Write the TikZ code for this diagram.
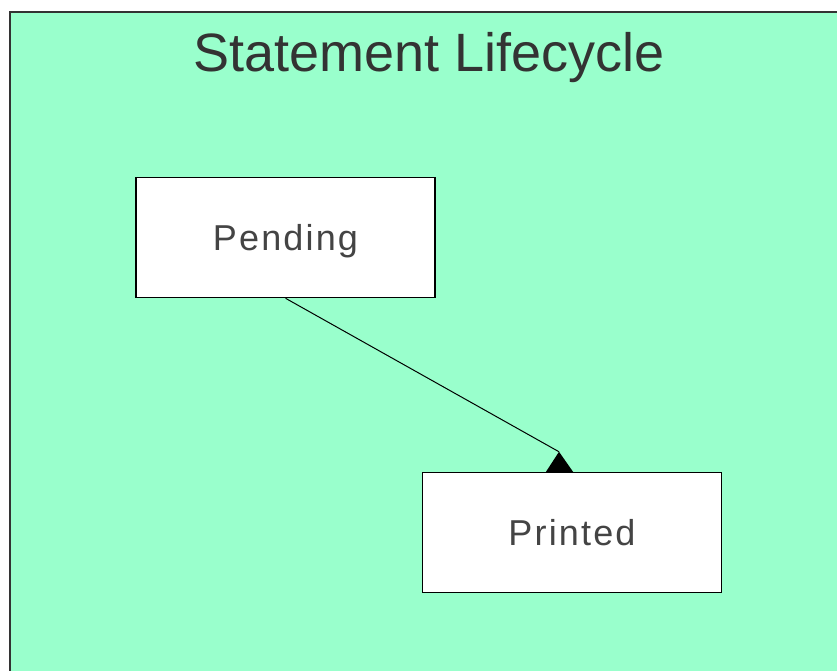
\documentclass[tikz,border=0pt]{standalone}
\usepackage{fontspec}
\setmainfont{Liberation Sans}
\definecolor{lcgreen}{RGB}{153,255,204}
\definecolor{lcframe}{RGB}{51,51,51}
\definecolor{lctext}{RGB}{68,68,68}

\begin{document}
\begin{tikzpicture}[x=1pt,y=1pt,
  statebox/.style={draw=black,line width=1.5pt,fill=white,inner sep=0pt,
    minimum width=299pt,minimum height=120pt,text=lctext,
    text height=25.8pt,text depth=0pt,
    font=\fontsize{36}{40}\selectfont\addfontfeature{LetterSpace=6}}]
  \useasboundingbox (0,0) rectangle (837,-670);
  \clip (0,0) rectangle (837,-670);
  \draw[lcframe,fill=lcgreen,line width=2pt] (10,-12) rectangle (860,-700);
  \node[text=lcframe,font=\fontsize{54}{60}\selectfont] (title) at (429,-58) {Statement Lifecycle};
  \node[statebox] (pending) at (285.5,-237.5) {Pending};
  \node[statebox] (printed) at (572,-532.5) {Printed};
  \coordinate (tip) at ([xshift=-13pt,yshift=20pt]printed.north);
  \draw[line width=1pt] (pending.south) -- (tip);
  \fill (tip) -- ([xshift=-26pt]printed.north) -- ([xshift=1pt]printed.north) -- cycle;
\end{tikzpicture}
\end{document}
